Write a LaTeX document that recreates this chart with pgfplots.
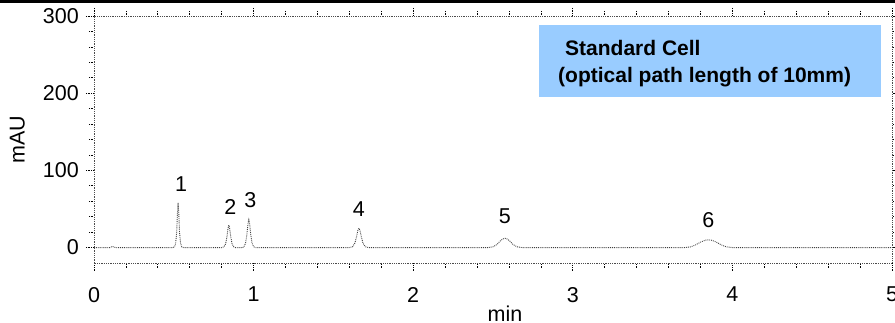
\documentclass[border=0pt]{standalone}
\usepackage{fontspec}
\setmainfont{Liberation Sans}
\usepackage{pgfplots}
\pgfplotsset{compat=1.18}
\definecolor{boxblue}{RGB}{153,204,255}
\begin{document}
\fontsize{21}{25}\selectfont
\begin{tikzpicture}[x=1pt,y=1pt]
\path[use as bounding box] (-94,-60) rectangle (801,263);
\fill[black] (-94,260) rectangle (801,263.5);
\begin{axis}[
  at={(0,0)}, anchor=south west,
  scale only axis, width=798pt, height=247pt,
  xmin=0, xmax=5, ymin=-20, ymax=300,
  xtick={0,1,2,3,4,5}, minor x tick num=4,
  ytick={0,100,200,300}, minor y tick num=4,
  tick align=outside,
  major tick length=8pt, minor tick length=5pt,
  every tick/.style={black, densely dotted, line width=0.7pt},
  axis line style={black!70, densely dotted, line width=0.8pt},
  /pgf/number format/assume math mode=true,
  tick label style={font=\fontsize{21.5}{25}\selectfont},
  xticklabel style={yshift=-9pt},
  yticklabel style={xshift=0pt},
  xlabel={min}, ylabel={mAU},
  label style={font=\fontsize{21.5}{25}\selectfont},
  xlabel style={yshift=11pt, xshift=12pt},
  ylabel style={yshift=4pt},
  clip=false,
]
\addplot[black!75, densely dotted, line width=0.9pt] coordinates {
(0,0) (0.10,0) (0.115,1.5) (0.125,0.5) (0.14,0)
(0.495,0) (0.505,1) (0.512,6) (0.518,20) (0.523,45) (0.527,58) (0.531,45) (0.536,20) (0.542,6) (0.55,1) (0.56,0)
(0.80,0) (0.815,1) (0.825,5) (0.833,14) (0.84,25) (0.845,29) (0.85,25) (0.857,14) (0.865,5) (0.875,1) (0.885,0)
(0.93,0) (0.94,1) (0.95,6) (0.958,17) (0.965,31) (0.97,36) (0.975,31) (0.982,17) (0.99,6) (1.0,1) (1.01,0)
(1.60,0) (1.62,1) (1.635,6) (1.645,14) (1.653,22) (1.66,25) (1.667,22) (1.675,14) (1.685,6) (1.70,1) (1.72,0)
(2.47,0) (2.50,1) (2.525,4) (2.545,8.5) (2.56,11) (2.575,12) (2.59,11) (2.605,8.5) (2.625,4) (2.65,1) (2.68,0)
(3.70,0) (3.74,1) (3.77,3.5) (3.80,7) (3.83,9.5) (3.85,10) (3.87,9.5) (3.90,7) (3.93,3.5) (3.96,1) (4.0,0)
(5,0)
};
\node[font=\fontsize{21.5}{25}\selectfont] at (axis cs:0.545,82) {1};
\node[font=\fontsize{21.5}{25}\selectfont] at (axis cs:0.855,53) {2};
\node[font=\fontsize{21.5}{25}\selectfont] at (axis cs:0.98,61) {3};
\node[font=\fontsize{21.5}{25}\selectfont] at (axis cs:1.66,50) {4};
\node[font=\fontsize{21.5}{25}\selectfont] at (axis cs:2.575,40) {5};
\node[font=\fontsize{21.5}{25}\selectfont] at (axis cs:3.85,35) {6};
\end{axis}
\fill[boxblue] (445,166) rectangle (787,238);
\node[anchor=west, inner sep=0pt, font=\fontsize{21}{24}\selectfont\bfseries] at (471,215) {Standard Cell};
\node[anchor=west, inner sep=0pt, font=\fontsize{21}{24}\selectfont\bfseries] at (464,186) {(optical path length of 10mm)};
\end{tikzpicture}
\end{document}
